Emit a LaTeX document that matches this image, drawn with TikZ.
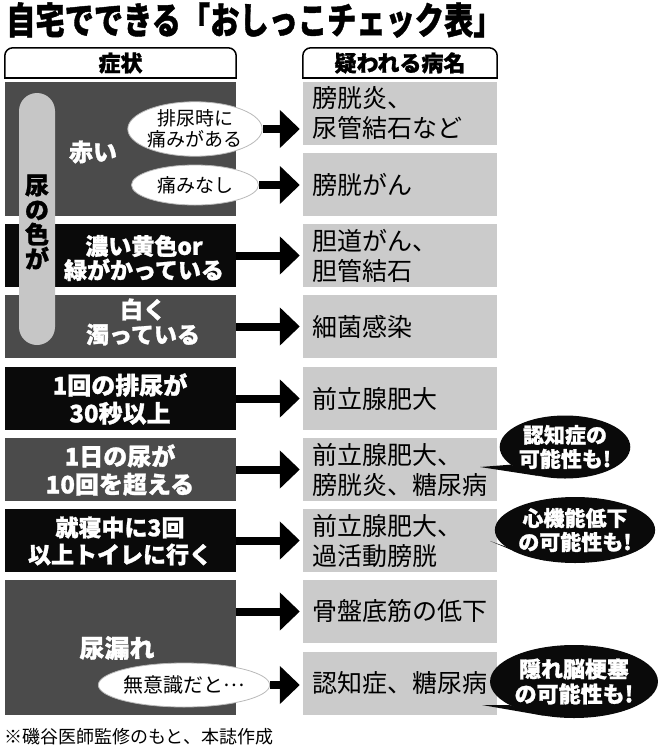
\documentclass[tikz,border=0pt]{standalone}
\usepackage{fontspec}
\setmainfont{Noto Sans CJK JP}
\newfontfamily\heavy{Noto Sans CJK JP}[BoldFeatures={FakeBold=1.2}]
\usetikzlibrary{shapes.geometric,arrows.meta,calc}
\definecolor{dk}{HTML}{4B4B4B}
\definecolor{bk}{HTML}{0A0A0A}
\definecolor{lg}{HTML}{CBCBCB}
\definecolor{pl}{HTML}{C6C6C6}
\begin{document}
\begin{tikzpicture}[x=1pt,y=-1pt,
  lbox/.style={minimum width=231pt,minimum height=63pt,inner sep=0pt},
  ltext/.style={text=white,font=\heavy\bfseries\fontsize{23}{27}\selectfont,align=center,inner sep=0pt},
  rbox/.style={fill=lg,minimum height=63pt,text width=176pt,inner xsep=9pt,inner ysep=0pt,align=left,font=\fontsize{25}{30}\selectfont},
  hdr/.style={minimum height=30pt,inner sep=0pt,font=\heavy\bfseries\fontsize{22}{24}\selectfont},
  hline/.style={line width=1.5pt,line cap=rect},
  wellipse/.style={ellipse,fill=white,draw=gray!55,line width=0.8pt,inner sep=0pt,align=center,font=\fontsize{19}{21}\selectfont},
  callout/.style={ellipse,fill=bk,inner sep=0pt,align=center,text=white,font=\heavy\bfseries\fontsize{21}{24}\selectfont},
  arr/.style={line width=8pt,-{Triangle[length=20pt,width=37pt]},shorten >=3pt}
]
\useasboundingbox (0,0) rectangle (661,750);
% title
\node[anchor=west,inner sep=0pt] (title) at (6,20) {\scalebox{0.79}[1]{\heavy\bfseries\fontsize{37}{40}\selectfont 自宅でできる「おしっこチェック表」}};
% headers
\node[hdr,minimum width=231pt] (h1) at (120.5,63) {症状};
\draw[hline,rounded corners=8pt] (h1.south west) -- (h1.north west) -- (h1.north east) -- (h1.south east);
\draw[hline] (h1.south west) -- (h1.south east);
\node[hdr,minimum width=194pt] (h2) at (400,63) {疑われる病名};
\draw[hline,rounded corners=8pt] (h2.south west) -- (h2.north west) -- (h2.north east) -- (h2.south east);
\draw[hline] (h2.south west) -- (h2.south east);
% left boxes
\node[lbox,fill=dk,minimum height=134pt] (L1) at (120.5,149) {};
\node[lbox,fill=bk] (L2) at (120.5,255.5) {};
\node[lbox,fill=dk] (L3) at (120.5,326.5) {};
\node[lbox,fill=bk] (L4) at (120.5,398.5) {};
\node[lbox,fill=dk] (L5) at (120.5,469.5) {};
\node[lbox,fill=bk] (L6) at (120.5,540.5) {};
\node[lbox,fill=dk,minimum height=135pt] (L7) at (120.5,647.5) {};
% pill
\node[fill=pl,minimum width=36pt,minimum height=252pt,rounded corners=18pt,inner sep=0pt] (pill) at (37,219) {};
\node[inner sep=0pt,align=center,font=\heavy\bfseries\fontsize{24}{24.5}\selectfont] (pilltext) at (37,222) {尿\\の\\色\\が};
% left texts
\node[ltext,font=\heavy\bfseries\fontsize{24}{27}\selectfont] (t1) at (93,152) {赤い};
\node[ltext,font=\heavy\bfseries\fontsize{23}{24}\selectfont] (t2) at (144,258) {濃い黄色or\\緑がかっている};
\node[ltext,font=\heavy\bfseries\fontsize{23}{25}\selectfont] (t3) at (143,322) {白く\\濁っている};
\node[ltext,font=\heavy\bfseries\fontsize{24}{28}\selectfont] (t4) at (120,399) {1回の排尿が\\30秒以上};
\node[ltext,font=\heavy\bfseries\fontsize{24}{28}\selectfont] (t5) at (120,470) {1日の尿が\\10回を超える};
\node[ltext,font=\heavy\bfseries\fontsize{23}{27}\selectfont] (t6) at (120,541) {就寝中に3回\\以上トイレに行く};
\node[ltext,font=\heavy\bfseries\fontsize{25}{27}\selectfont] (t7) at (117,648) {尿漏れ};
% white ellipses
\node[wellipse,minimum width=127pt,minimum height=51pt] (E1) at (195,129) {排尿時に\\痛みがある};
\node[wellipse,minimum width=127pt,minimum height=40pt] (E2) at (195,185) {痛みなし};
\node[wellipse,minimum width=152pt,minimum height=44pt,font=\fontsize{20}{22}\selectfont] (E3) at (184,685) {無意識だと\raisebox{0.3em}{…}};
% result boxes
\node[rbox] (R1) at (400,113.5) {膀胱炎、\\尿管結石など};
\node[rbox] (R2) at (400,184.5) {膀胱がん};
\node[rbox] (R3) at (400,255.5) {胆道がん、\\胆管結石};
\node[rbox] (R4) at (400,326.5) {細菌感染};
\node[rbox] (R5) at (400,398.5) {前立腺肥大};
\node[rbox] (R6) at (400,469.5) {前立腺肥大、\\膀胱炎、糖尿病};
\node[rbox] (R7) at (400,540.5) {前立腺肥大、\\過活動膀胱};
\node[rbox] (R8) at (400,611.5) {骨盤底筋の低下};
\node[rbox] (R9) at (400,683.5) {認知症、糖尿病};
% arrows
\draw[arr] (E1.east) -- (E1.east -| R1.west);
\draw[arr] (E2.east) -- (E2.east -| R2.west);
\draw[arr] (L2.east) -- (R3.west);
\draw[arr] (L3.east) -- (R4.west);
\draw[arr] (L4.east) -- (R5.west);
\draw[arr] (L5.east) -- (R6.west);
\draw[arr] (L6.east) -- (R7.west);
\draw[arr] (L7.east |- R8.west) -- (R8.west);
\draw[arr] (E3.east) -- (E3.east -| R9.west);
% callouts
\node[callout,minimum width=126pt,minimum height=63pt] (C1) at (565,447) {認知症の\\可能性も!};
\coordinate (k1) at (480,467);
\fill[bk] (C1.198) -- (k1) -- (C1.228) -- cycle;
\node[callout,minimum width=130pt,minimum height=66pt] (C2) at (575,530) {心機能低下\\の可能性も!};
\coordinate (k2) at (490,541);
\fill[bk] (C2.196) -- (k2) -- (C2.226) -- cycle;
\node[callout,minimum width=153pt,minimum height=73pt,font=\heavy\bfseries\fontsize{22}{25}\selectfont] (C3) at (574,681.5) {隠れ脳梗塞\\の可能性も!};
\coordinate (k3) at (482,705);
\fill[bk] (C3.200) -- (k3) -- (C3.230) -- cycle;
% footnote
\node[anchor=west,inner sep=0pt,font=\fontsize{18}{20}\selectfont] (foot) at (4,737) {※磯谷医師監修のもと、本誌作成};
\end{tikzpicture}
\end{document}
